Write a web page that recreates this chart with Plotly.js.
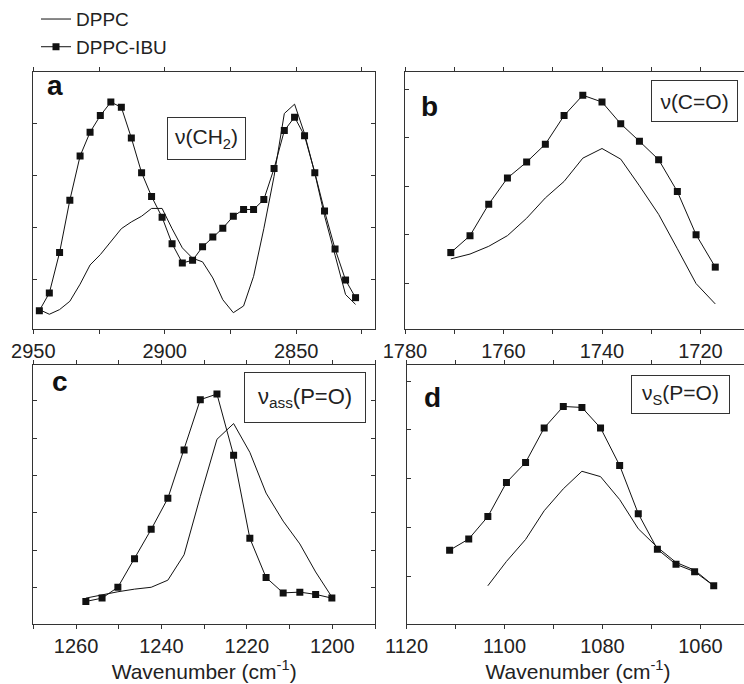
<!DOCTYPE html>
<html><head><meta charset="utf-8">
<script src="https://cdn.plot.ly/plotly-3.0.1.min.js"></script>
<style>html,body{margin:0;padding:0;overflow:hidden;background:#fff}#plot{width:752px;height:684px}</style>
</head><body><div id="plot"></div><script>
// Panel a: nu(CH2)
const wnCH2 = [2947.7,2943.9,2940.0,2936.1,2932.2,2928.4,2924.5,2920.5,2916.5,2912.7,2908.8,2905.0,2901.0,2897.2,2893.3,2889.4,2885.6,2881.7,2877.9,2873.9,2870.0,2866.2,2862.3,2858.4,2854.5,2850.6,2846.8,2842.9,2839.2,2835.2,2831.2,2827.4];
const ch2Dppc = [-0.58,-0.67,-0.58,-0.42,-0.09,0.28,0.48,0.72,0.98,1.11,1.22,1.37,1.37,0.98,0.61,0.41,0.34,0.03,-0.39,-0.64,-0.51,0.06,0.98,1.99,3.20,3.38,2.81,2.05,1.23,0.47,-0.29,-0.48];
const ch2Ibu = [-0.60,-0.26,0.52,1.53,2.38,2.84,3.16,3.42,3.32,2.73,2.06,1.60,1.20,0.69,0.32,0.37,0.63,0.82,0.99,1.22,1.35,1.35,1.54,2.14,2.87,3.13,2.77,2.06,1.32,0.59,-0.01,-0.35];
// Panel b: nu(C=O)
const wnCO = [1770.7,1766.8,1763.0,1759.2,1755.3,1751.5,1747.7,1743.9,1740.0,1736.2,1732.4,1728.5,1724.7,1720.9,1717.0];
const coDppc = [0.50,0.60,0.76,0.98,1.34,1.76,2.10,2.58,2.78,2.56,2.01,1.42,0.71,-0.01,-0.43];
const coIbu = [0.63,0.98,1.63,2.17,2.50,2.87,3.46,3.88,3.74,3.29,2.93,2.55,1.89,1.00,0.33];
// Panel c: nu_ass(P=O)
const wnPOa = [1257.7,1253.9,1250.2,1246.3,1242.4,1238.5,1234.7,1230.9,1227.0,1223.1,1219.3,1215.5,1211.5,1207.6,1203.9,1200.1];
const poaDppc = [-0.28,-0.19,-0.11,-0.04,0.01,0.20,0.88,2.44,3.97,4.39,3.62,2.53,1.78,1.17,0.42,-0.25];
const poaIbu = [-0.37,-0.28,0.01,0.77,1.56,2.39,3.68,5.03,5.18,3.54,1.32,0.27,-0.14,-0.12,-0.18,-0.28];
// Panel d: nu_s(P=O)
const wnPOs = [1111.2,1107.3,1103.4,1099.6,1095.7,1091.9,1088.0,1084.2,1080.4,1076.5,1072.7,1068.8,1065.0,1061.2,1057.3];
const posDppc = [null,null,-0.20,0.30,0.75,1.34,1.79,2.15,2.04,1.57,0.97,0.59,0.28,0.12,-0.20];
const posIbu = [0.53,0.76,1.22,1.92,2.33,3.04,3.48,3.46,3.04,2.27,1.28,0.55,0.24,0.09,-0.20];

const seriesNames = ['DPPC', 'DPPC-IBU'];
const panelLetters = ['a', 'b', 'c', 'd'];
const bandLabels = ['ν(CH<sub>2</sub>)', 'ν(C=O)', 'ν<sub>ass</sub>(P=O)', 'ν<sub>S</sub>(P=O)'];
const axisTitle = 'Wavenumber (cm<sup>-1</sup>)';

const W = 752, H = 684;
const FONT = 'Liberation Sans, Arial, Helvetica, sans-serif';
const INK = '#111';
const px = v => v / W;
const py = v => 1 - v / H;

const panels = [
  {x: wnCH2, d: ch2Dppc, i: ch2Ibu},
  {x: wnCO, d: coDppc, i: coIbu},
  {x: wnPOa, d: poaDppc, i: poaIbu},
  {x: wnPOs, d: posDppc, i: posIbu}
];

const traces = [];
panels.forEach((p, k) => {
  const sfx = k === 0 ? '' : String(k + 1);
  traces.push({x: p.x, y: p.d, type: 'scatter', mode: 'lines', name: seriesNames[0],
    legendgroup: 'dppc', showlegend: k === 0, xaxis: 'x' + sfx, yaxis: 'y' + sfx,
    line: {color: INK, width: 1}});
  traces.push({x: p.x, y: p.i, type: 'scatter', mode: 'lines+markers', name: seriesNames[1],
    legendgroup: 'ibu', showlegend: k === 0, xaxis: 'x' + sfx, yaxis: 'y' + sfx,
    line: {color: INK, width: 1}, marker: {symbol: 'square', size: 7, color: INK}});
});

function xax(domain, range, dtick, anchor, withTitle) {
  const a = {domain: domain, range: range, anchor: anchor, showline: true, linecolor: '#333', linewidth: 1,
    mirror: 'ticks', ticks: 'outside', ticklen: 4, tickwidth: 1, tickcolor: '#333', tickmode: 'linear',
    tick0: 0, dtick: dtick, minor: {dtick: dtick / 2, ticks: 'outside', ticklen: 4, tickcolor: '#333'},
    showgrid: false, zeroline: false, tickfont: {family: FONT, size: 20, color: '#222'}, fixedrange: true};
  if (withTitle) a.title = {text: axisTitle, font: {family: FONT, size: 21, color: '#222'}, standoff: 2};
  return a;
}
function yax(domain, range, anchor) {
  return {domain: domain, range: range, anchor: anchor, showline: true, linecolor: '#333', linewidth: 1,
    mirror: 'ticks', ticks: 'inside', ticklen: 4, tickcolor: '#333', tickmode: 'linear', tick0: 0, dtick: 1,
    showticklabels: false, showgrid: false, zeroline: false, fixedrange: true};
}

const topRow = [py(323.3), py(62)];
const botRow = [py(623.3), py(359.5)];
const layout = {
  width: W, height: H, margin: {l: 0, r: 0, t: 0, b: 0}, paper_bgcolor: '#fff', plot_bgcolor: '#fff',
  font: {family: FONT, color: '#222'},
  showlegend: true,
  legend: {x: px(36), y: py(-11), xanchor: 'left', yanchor: 'top', font: {family: FONT, size: 19, color: '#222'},
    bgcolor: 'rgba(0,0,0,0)', itemwidth: 30, tracegroupgap: 0},
  xaxis: xax([px(33.3), px(375)], [2950, 2820], 50, 'y', false),
  yaxis: yax(topRow, [-0.956, 4.0], 'x'),
  xaxis2: xax([px(405), px(749.75)], [1780, 1710], 20, 'y2', false),
  yaxis2: yax(topRow, [-0.95, 4.36], 'x2'),
  xaxis3: xax([px(33.3), px(375)], [1270, 1190], 20, 'y3', true),
  yaxis3: yax(botRow, [-0.98, 5.965], 'x3'),
  xaxis4: xax([px(406.5), px(749.5)], [1120, 1050], 20, 'y4', true),
  yaxis4: yax(botRow, [-0.99, 4.337], 'x4'),
  annotations: []
};

const letterPos = [[55, 76], [429, 97.5], [60, 376.5], [432.5, 393]];
panelLetters.forEach((t, k) => {
  layout.annotations.push({text: t, xref: 'paper', yref: 'paper', x: px(letterPos[k][0]), y: py(letterPos[k][1]),
    xanchor: 'center', yanchor: 'middle', showarrow: false,
    font: {family: FONT, size: 28, weight: 'bold', color: '#111'}});
});
const boxes = [[167.3, 107.5, 77, 41, 21], [651, 70, 85, 40, 21], [244.3, 366.7, 120, 49, 22], [630.7, 370, 97, 37, 21]];
bandLabels.forEach((t, k) => {
  const b = boxes[k];
  layout.annotations.push({text: t, xref: 'paper', yref: 'paper', x: px(b[0]), y: py(b[1]),
    xanchor: 'left', yanchor: 'top', showarrow: false, width: b[2], height: b[3], align: 'center', valign: 'middle',
    bordercolor: '#333', borderwidth: 1, borderpad: 0, bgcolor: '#fff',
    font: {family: FONT, size: b[4], color: '#222'}});
});

Plotly.newPlot('plot', traces, layout, {displayModeBar: false, staticPlot: true});
</script></body></html>
